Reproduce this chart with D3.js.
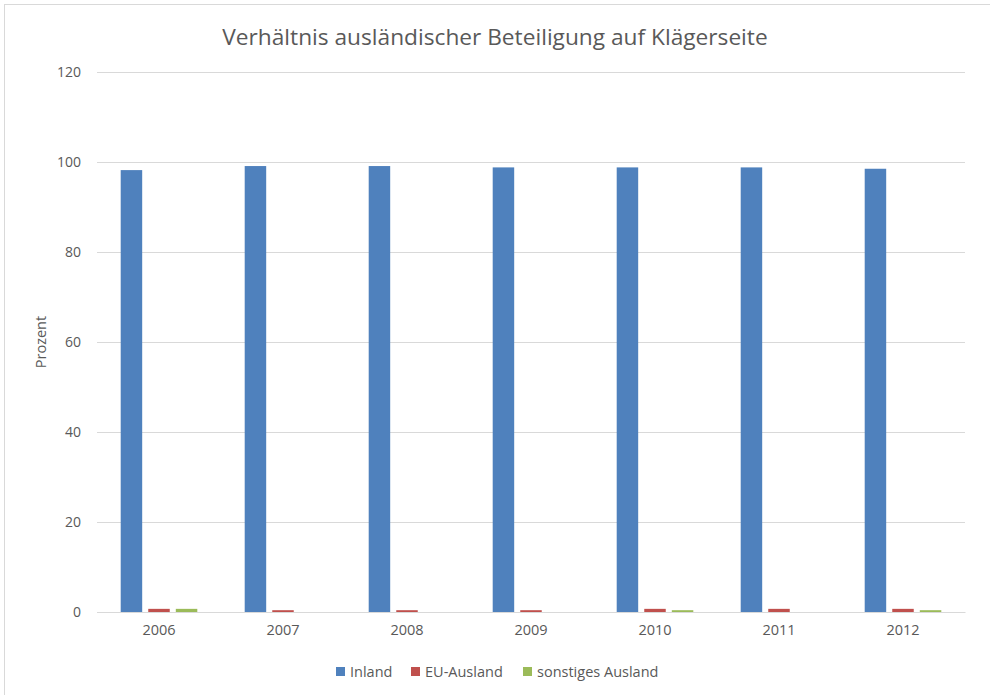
<!DOCTYPE html>
<html><head><meta charset="utf-8">
<script src="https://cdn.jsdelivr.net/npm/d3@7"></script>
<style>body{margin:0;background:#fff}svg{display:block}text{font-family:"Open Sans",sans-serif}</style>
</head><body><svg id="c" width="990" height="695"></svg>
<script>
const years = ["2006","2007","2008","2009","2010","2011","2012"];
const inland = [98.2, 99.1, 99.1, 98.8, 98.8, 98.8, 98.5];
const euAusland = [0.7, 0.4, 0.4, 0.4, 0.7, 0.7, 0.7];
const sonstigesAusland = [0.7, 0, 0, 0, 0.4, 0, 0.4];
const seriesNames = ["Inland", "EU-Ausland", "sonstiges Ausland"];
const seriesColors = ["#4f81bd", "#c0504d", "#9bbb59"];
const yTicks = [0, 20, 40, 60, 80, 100, 120];
const titleText = "Verhältnis ausländischer Beteiligung auf Klägerseite";
const yLabel = "Prozent";

const svg = d3.select("#c");
svg.append("rect").attr("x",4.5).attr("y",4.5).attr("width",1000).attr("height",1000)
  .attr("fill","#fff").attr("stroke","#d9d9d9");

const m = {left:97, right:965, top:72, bottom:612};
const x = d3.scaleBand().domain(years).range([m.left, m.right]).paddingInner(0).paddingOuter(0);
const y = d3.scaleLinear().domain([0,120]).range([m.bottom, m.top]);

const gy = svg.append("g").attr("transform",`translate(${m.left},0)`)
  .call(d3.axisLeft(y).tickValues(yTicks).tickSize(-(m.right-m.left)).tickPadding(16));
gy.select(".domain").remove();
gy.selectAll(".tick line").attr("stroke","#d9d9d9");
gy.selectAll(".tick text").attr("fill","#595959").style("font-size","14px");

const gx = svg.append("g").attr("transform",`translate(0,${m.bottom})`)
  .call(d3.axisBottom(x).tickSize(0).tickPadding(13));
gx.select(".domain").attr("stroke","#d9d9d9");
gx.selectAll(".tick text").attr("fill","#595959").style("font-size","14.5px");

const data = [inland, euAusland, sonstigesAusland];
const inner = d3.scaleBand().domain(d3.range(3)).range([0, x.bandwidth()]).paddingInner(0.22).paddingOuter(0.86);
data.forEach((vals, s) => {
  svg.append("g").selectAll("rect").data(vals).join("rect")
    .attr("x", (d,i) => x(years[i]) + inner(s))
    .attr("width", inner.bandwidth())
    .attr("y", d => y(d))
    .attr("height", d => y(0) - y(d))
    .attr("fill", seriesColors[s]);
});
gx.raise();

svg.append("text").attr("x",495).attr("y",45).attr("text-anchor","middle")
  .attr("fill","#595959").style("font-size","22.7px").text(titleText);

svg.append("text").attr("transform","translate(46,342) rotate(-90)").attr("text-anchor","middle")
  .attr("fill","#595959").style("font-size","14.5px").text(yLabel);

const legendX = [336, 411, 523];
const lg = svg.append("g");
seriesNames.forEach((n,i) => {
  const g = lg.append("g").attr("transform",`translate(${legendX[i]},667)`);
  g.append("rect").attr("x",0).attr("y",0).attr("width",9).attr("height",9).attr("fill",seriesColors[i]);
  g.append("text").attr("x",14).attr("y",10).attr("fill","#595959").style("font-size","14.5px").text(n);
});
</script></body></html>
